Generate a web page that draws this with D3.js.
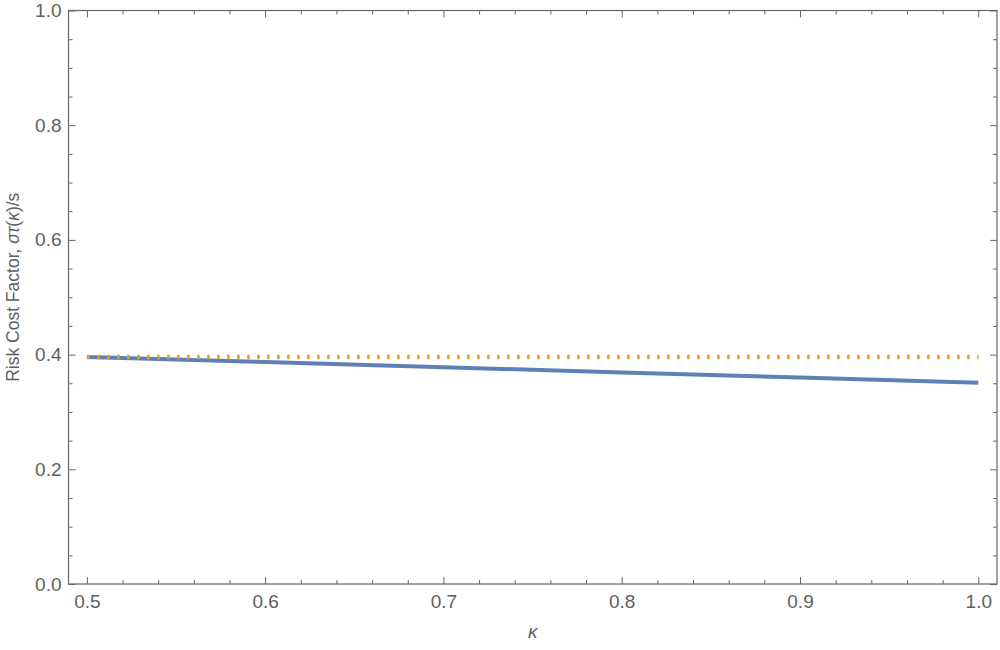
<!DOCTYPE html>
<html>
<head>
<meta charset="utf-8">
<script src="https://cdn.jsdelivr.net/npm/d3@7"></script>
<style>
  body { margin: 0; background: #fff; }
  svg { display: block; }
  text { font-family: "Liberation Sans", Arial, Helvetica, sans-serif; fill: #606060; }
</style>
</head>
<body>
<svg id="chart" width="1000" height="650"></svg>
<script>
// Data
const kappa = [0.5, 0.6, 0.7, 0.8, 0.9, 1.0];
const riskCost = [0.396, 0.387, 0.378, 0.369, 0.360, 0.351];
const baseline = [0.396, 0.396, 0.396, 0.396, 0.396, 0.396];
const xTicks = [0.5, 0.6, 0.7, 0.8, 0.9, 1.0];
const yTicks = [0.0, 0.2, 0.4, 0.6, 0.8, 1.0];

(function () {
const svg = d3.select("#chart");
const mL = 68.5, mR = 997, mT = 10.5, mB = 584;

const x = d3.scaleLinear().domain([0.4897, 1.0105]).range([mL, mR]);
const y = d3.scaleLinear().domain([0, 1]).range([mB, mT]);

const frameColor = "#666666";

const xMinor = d3.range(0.48, 1.0201, 0.02).filter(v => v >= 0.4897 && v <= 1.0105 && !xTicks.some(t => Math.abs(t - v) < 1e-6));
const yMinor = d3.range(0, 1.0001, 0.05).filter(v => !yTicks.some(t => Math.abs(t - v) < 1e-6));

const fmt = d3.format(".1f");

svg.append("g").attr("transform", `translate(0,${mB})`)
  .call(d3.axisBottom(x).tickValues(xTicks).tickFormat(fmt).tickSizeInner(-7).tickSizeOuter(0).tickPadding(11));
svg.append("g").attr("transform", `translate(0,${mB})`)
  .call(d3.axisBottom(x).tickValues(xMinor).tickFormat("").tickSizeInner(-4).tickSizeOuter(0));
svg.append("g").attr("transform", `translate(0,${mT})`)
  .call(d3.axisTop(x).tickValues(xTicks).tickFormat("").tickSizeInner(-7).tickSizeOuter(0));
svg.append("g").attr("transform", `translate(0,${mT})`)
  .call(d3.axisTop(x).tickValues(xMinor).tickFormat("").tickSizeInner(-4).tickSizeOuter(0));
svg.append("g").attr("transform", `translate(${mL},0)`)
  .call(d3.axisLeft(y).tickValues(yTicks).tickFormat(fmt).tickSizeInner(-7).tickSizeOuter(0).tickPadding(7));
svg.append("g").attr("transform", `translate(${mL},0)`)
  .call(d3.axisLeft(y).tickValues(yMinor).tickFormat("").tickSizeInner(-4).tickSizeOuter(0));
svg.append("g").attr("transform", `translate(${mR},0)`)
  .call(d3.axisRight(y).tickValues(yTicks).tickFormat("").tickSizeInner(-7).tickSizeOuter(0));
svg.append("g").attr("transform", `translate(${mR},0)`)
  .call(d3.axisRight(y).tickValues(yMinor).tickFormat("").tickSizeInner(-4).tickSizeOuter(0));

svg.selectAll(".domain").remove();
svg.selectAll(".tick line").attr("stroke", frameColor).attr("stroke-width", 1);
svg.selectAll(".tick text").attr("font-size", 19).attr("fill", "#606060")
  .attr("font-family", '"Liberation Sans", Arial, sans-serif');

svg.append("rect").attr("x", mL).attr("y", mT).attr("width", mR - mL).attr("height", mB - mT)
  .attr("fill", "none").attr("stroke", frameColor).attr("stroke-width", 1.2);

const line = d3.line().x(d => x(d[0])).y(d => y(d[1]));
svg.append("path").datum(kappa.map((k, i) => [k, riskCost[i]]))
  .attr("d", line).attr("fill", "none").attr("stroke", "#5E81B5").attr("stroke-width", 4);
svg.append("path").datum(kappa.map((k, i) => [k, baseline[i]]))
  .attr("d", line).attr("fill", "none").attr("stroke", "#E29E24").attr("stroke-width", 4.5)
  .attr("stroke-dasharray", "2.5,7.5").attr("transform", "translate(0.3,0)");

svg.append("text").attr("x", (mL + mR) / 2).attr("y", 638).attr("text-anchor", "middle")
  .attr("font-size", 19).attr("font-style", "italic").text("κ");

const yl = svg.append("text").attr("transform", `translate(19,${(mT + mB) / 2 - 10}) rotate(-90)`)
  .attr("text-anchor", "middle").attr("font-size", 17.5);
yl.append("tspan").text("Risk Cost Factor, ");
yl.append("tspan").attr("font-style", "italic").text("στ");
yl.append("tspan").text("(");
yl.append("tspan").attr("font-style", "italic").text("κ");
yl.append("tspan").text(")/s");
})();
</script>
</body>
</html>
